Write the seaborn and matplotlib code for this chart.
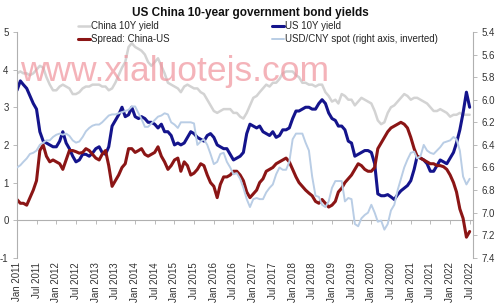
import numpy as np
import pandas as pd
import matplotlib
matplotlib.use("Agg")
import matplotlib.pyplot as plt
import seaborn as sns

# ---- data (monthly, Jan 2011 .. Jul 2022) ----
dates = pd.date_range("2011-01-01", "2022-07-01", freq="MS")

china_10y = [3.9, 3.95, 3.9, 3.9, 3.85, 3.9, 4.0, 4.1, 4.05, 3.8, 3.6, 3.45,
             3.45, 3.55, 3.6, 3.55, 3.5, 3.35, 3.35, 3.4, 3.5, 3.55, 3.55, 3.6,
             3.6, 3.6, 3.55, 3.55, 3.45, 3.5, 3.65, 3.85, 4.05, 4.2, 4.6, 4.7,
             4.6, 4.55, 4.5, 4.4, 4.2, 4.1, 4.2, 4.3, 4.1, 3.9, 3.65, 3.6,
             3.55, 3.5, 3.4, 3.55, 3.6, 3.55, 3.5, 3.5, 3.4, 3.35, 3.2, 3.05,
             2.9, 2.85, 2.9, 2.95, 2.95, 2.95, 2.85, 2.85, 2.75, 2.7, 2.85, 3.05,
             3.25, 3.3, 3.4, 3.5, 3.6, 3.55, 3.65, 3.65, 3.75, 3.9, 3.95, 3.95,
             3.95, 3.85, 3.8, 3.65, 3.65, 3.6, 3.6, 3.55, 3.6, 3.6, 3.4, 3.3,
             3.15, 3.2, 3.1, 3.35, 3.3, 3.2, 3.2, 3.05, 3.15, 3.25, 3.2, 3.15,
             3.1, 2.9, 2.65, 2.55, 2.6, 2.85, 3.0, 3.05, 3.15, 3.25, 3.35, 3.3,
             3.2, 3.25, 3.25, 3.2, 3.15, 3.1, 3.0, 2.9, 2.9, 2.95, 2.9, 2.85,
             2.75, 2.8, 2.8, 2.85, 2.8, 2.8, 2.8]

us_10y = [3.45, 3.7, 3.6, 3.5, 3.3, 3.1, 2.95, 2.35, 2.1, 2.05, 2.0, 1.95,
          1.95, 2.1, 2.35, 2.05, 1.9, 1.7, 1.55, 1.6, 1.75, 1.75, 1.7, 1.78,
          1.9, 1.95, 1.8, 1.75, 1.95, 2.5, 2.65, 2.8, 3.0, 2.75, 2.8, 3.0,
          2.75, 2.7, 2.75, 2.7, 2.6, 2.6, 2.55, 2.45, 2.55, 2.35, 2.35, 2.25,
          2.0, 2.05, 2.0, 2.05, 2.2, 2.35, 2.3, 2.2, 2.15, 2.1, 2.25, 2.3,
          2.2, 2.0, 1.95, 1.9, 1.9, 1.75, 1.6, 1.65, 1.7, 1.8, 2.3, 2.55,
          2.5, 2.45, 2.5, 2.35, 2.3, 2.25, 2.35, 2.2, 2.25, 2.4, 2.4, 2.45,
          2.7, 2.9, 2.9, 2.95, 3.0, 3.0, 2.95, 2.95, 3.1, 3.2, 3.1, 2.85,
          2.7, 2.65, 2.5, 2.5, 2.4, 2.1, 2.05, 1.7, 1.75, 1.8, 1.85, 1.85,
          1.8, 1.5, 0.7, 0.65, 0.65, 0.68, 0.62, 0.55, 0.68, 0.78, 0.85, 0.92,
          1.05, 1.35, 1.7, 1.65, 1.6, 1.5, 1.3, 1.3, 1.45, 1.6, 1.55, 1.5,
          1.65, 1.8, 2.05, 2.4, 2.85, 3.4, 3.0]

spread = [0.55, 0.45, 0.45, 0.4, 0.6, 0.8, 1.05, 1.85, 2.0, 1.7, 1.55, 1.6,
          1.55, 1.5, 1.35, 1.6, 1.85, 1.85, 1.82, 1.78, 1.8, 1.9, 1.85, 1.75,
          1.65, 1.6, 1.75, 1.85, 1.45, 0.9, 1.05, 1.2, 1.4, 1.5, 1.9, 1.9,
          1.8, 1.85, 1.9, 1.75, 1.7, 1.75, 1.8, 1.95, 1.7, 1.55, 1.35, 1.45,
          1.6, 1.65, 1.3, 1.55, 1.45, 1.2, 1.25, 1.35, 1.5, 1.45, 1.2, 1.0,
          0.9, 0.6, 0.95, 1.15, 1.15, 1.2, 1.3, 1.3, 1.2, 1.05, 0.75, 0.6,
          0.7, 0.8, 1.0, 1.1, 1.3, 1.35, 1.4, 1.5, 1.55, 1.6, 1.65, 1.55,
          1.35, 1.15, 1.0, 0.9, 0.8, 0.72, 0.65, 0.5, 0.45, 0.55, 0.45, 0.35,
          0.4, 0.5, 0.75, 0.85, 1.0, 1.1, 1.2, 1.35, 1.5, 1.45, 1.35, 1.3,
          1.3, 1.4, 1.9, 2.05, 2.2, 2.35, 2.45, 2.5, 2.55, 2.6, 2.55, 2.45,
          2.2, 1.9, 1.7, 1.65, 1.6, 1.55, 1.5, 1.5, 1.45, 1.45, 1.42, 1.35,
          1.2, 1.0, 0.75, 0.3, 0.05, -0.45, -0.3]

usd_cny = [6.6, 6.58, 6.55, 6.52, 6.48, 6.47, 6.45, 6.4, 6.38, 6.36, 6.36, 6.33,
           6.31, 6.3, 6.31, 6.3, 6.32, 6.36, 6.38, 6.37, 6.33, 6.28, 6.25, 6.23,
           6.22, 6.22, 6.2, 6.17, 6.14, 6.13, 6.13, 6.12, 6.11, 6.1, 6.09, 6.06,
           6.06, 6.12, 6.17, 6.24, 6.24, 6.21, 6.18, 6.15, 6.14, 6.12, 6.13, 6.2,
           6.22, 6.25, 6.2, 6.2, 6.2, 6.2, 6.21, 6.4, 6.37, 6.35, 6.4, 6.48,
           6.57, 6.55, 6.48, 6.47, 6.55, 6.6, 6.66, 6.65, 6.7, 6.78, 6.88, 6.95,
           6.88, 6.87, 6.88, 6.88, 6.82, 6.78, 6.75, 6.66, 6.6, 6.62, 6.62, 6.55,
           6.35, 6.3, 6.3, 6.3, 6.38, 6.45, 6.68, 6.85, 6.86, 6.93, 6.95, 6.9,
           6.78, 6.72, 6.72, 6.72, 6.9, 6.87, 6.88, 7.1, 7.12, 7.05, 7.02, 7.0,
           6.93, 7.0, 7.08, 7.07, 7.15, 7.1, 6.98, 6.93, 6.8, 6.7, 6.6, 6.53,
           6.47, 6.46, 6.52, 6.5, 6.4, 6.45, 6.47, 6.48, 6.45, 6.42, 6.38, 6.37,
           6.36, 6.33, 6.35, 6.45, 6.68, 6.75, 6.7]

title = "US China 10-year government bond yields"
labels = ["China 10Y yield", "US 10Y yield", "Spread: China-US",
          "USD/CNY spot (right axis, inverted)"]
left_ticks = [-1, 0, 1, 2, 3, 4, 5]
right_ticks = [5.4, 5.6, 5.8, 6.0, 6.2, 6.4, 6.6, 6.8, 7.0, 7.2, 7.4]
x_ticks = pd.date_range("2011-01-01", "2022-07-01", freq="6MS")

# ---- style ----
sns.set_style("white")
plt.rcParams['font.family'] = ['Liberation Sans', 'DejaVu Sans']

C_CHINA = "#d3d3d3"
C_US = "#14148c"
C_SPREAD = "#8b1515"
C_CNY = "#b9cde5"
C_AXIS = "#b0b0b0"
C_TXT = "#333333"

df = pd.DataFrame({"date": dates, "china": china_10y, "us": us_10y,
                   "spread": spread, "cny": usd_cny})

fig = plt.figure(figsize=(5.0, 3.07), dpi=100)
ax = fig.add_axes([0.034, 0.16, 0.912, 0.736])
ax2 = ax.twinx()

sns.lineplot(data=df, x="date", y="china", ax=ax, color=C_CHINA, lw=1.8, label=labels[0], legend=False)
sns.lineplot(data=df, x="date", y="us", ax=ax, color=C_US, lw=2.2, label=labels[1], legend=False)
sns.lineplot(data=df, x="date", y="spread", ax=ax, color=C_SPREAD, lw=2.2, label=labels[2], legend=False)
sns.lineplot(data=df, x="date", y="cny", ax=ax2, color=C_CNY, lw=1.4, label=labels[3], legend=False)

ax.set_xlim(pd.Timestamp("2011-01-01"), pd.Timestamp("2022-08-01"))
ax.set_ylim(-1, 5)
ax2.set_ylim(7.4, 5.4)

for a in (ax, ax2):
    a.set_xlabel("")
    a.set_ylabel("")
    for s in a.spines.values():
        s.set_visible(False)

ax.spines['left'].set_visible(True)
ax.spines['left'].set_color(C_AXIS)
ax.spines['left'].set_linewidth(0.8)
ax2.spines['right'].set_visible(True)
ax2.spines['right'].set_color(C_AXIS)
ax2.spines['right'].set_linewidth(0.8)

ax.set_yticks(left_ticks)
ax.set_yticklabels([str(t) for t in left_ticks])
ax.tick_params(axis='y', left=True, length=3, width=0.6, color=C_AXIS,
               labelsize=7, labelcolor=C_TXT, pad=3)
ax2.set_yticks(right_ticks)
ax2.set_yticklabels([f"{t:.1f}" for t in right_ticks])
ax2.tick_params(axis='y', right=True, length=3, width=0.6, color=C_AXIS,
                labelsize=7, labelcolor=C_TXT, pad=3)

ax.set_xticks(x_ticks)
ax.set_xticklabels([d.strftime("%b %Y") for d in x_ticks], rotation=90)
ax.tick_params(axis='x', bottom=False, length=0, labelsize=7, labelcolor=C_TXT, pad=3)

# zero axis line with tick marks
sec = ax.secondary_xaxis(1 / 6)
sec.set_xticks(x_ticks)
sec.tick_params(axis='x', length=3, width=0.6, color=C_AXIS, labelbottom=False)
sec.spines['bottom'].set_color(C_AXIS)
sec.spines['bottom'].set_linewidth(0.8)
for k in ('top', 'left', 'right'):
    sec.spines[k].set_visible(False)

# legend
h1, l1 = ax.get_legend_handles_labels()
h2, l2 = ax2.get_legend_handles_labels()
hd = dict(zip(l1 + l2, h1 + h2))
order = [labels[0], labels[2], labels[1], labels[3]]
fig.legend([hd[k] for k in order], order, loc="upper left",
           bbox_to_anchor=(0.155, 0.93), ncol=2, frameon=False, fontsize=7,
           handlelength=1.3, handletextpad=0.1, columnspacing=10.5,
           labelspacing=0.25, borderpad=0, borderaxespad=0)

fig.text(0.5, 0.958, title, ha="center", va="center", fontsize=8.5,
         fontweight="bold", color="#111111")

# watermark
fig.text(0.04, 0.737, "www.xialuotejs.com", fontsize=25.5, color="#f0939c",
         alpha=0.7, ha="left", va="baseline")

fig.savefig("out.png", dpi=100)
